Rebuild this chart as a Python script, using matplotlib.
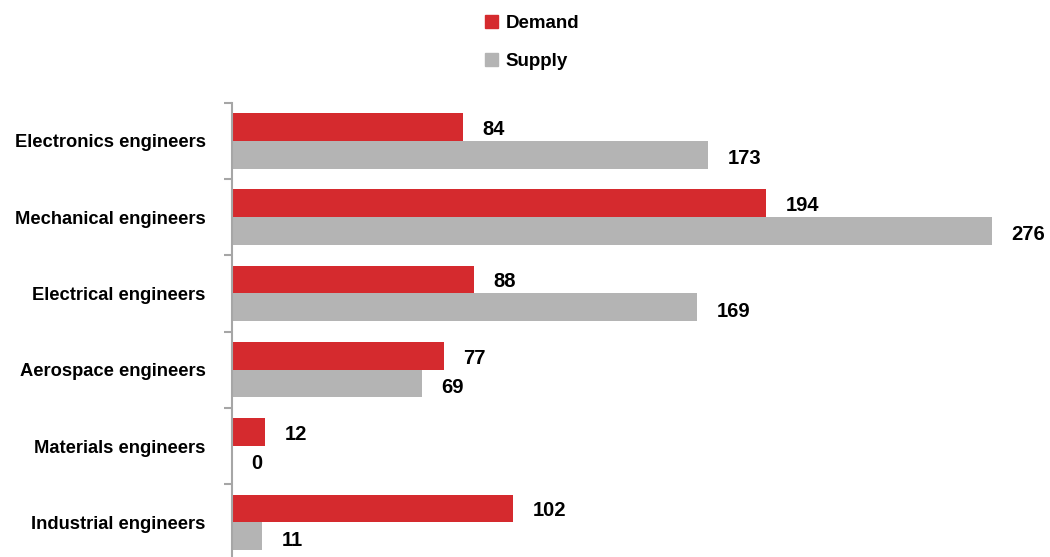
import matplotlib.pyplot as plt
import numpy as np
from matplotlib.patches import Patch

plt.rcParams['font.family'] = ['Liberation Sans', 'DejaVu Sans']
plt.rcParams['font.weight'] = 'bold'

categories = ['Electronics engineers', 'Mechanical engineers', 'Electrical engineers',
              'Aerospace engineers', 'Materials engineers', 'Industrial engineers']
demand = [84, 194, 88, 77, 12, 102]
supply = [173, 276, 169, 69, 0, 11]

red = '#D52A2E'
grey = '#B4B4B4'
W, H = 1050, 557

fig = plt.figure(figsize=(W / 100, H / 100), dpi=100)
# axes placed in pixel terms: spine at x=232, first boundary at y=102.7
ax = fig.add_axes([232 / W, 1 - 560.5 / H, (W - 232) / W, 457.8 / H])

y = np.arange(len(categories))
h = 0.363
ax.barh(y - h / 2, demand, height=h, color=red, label='Demand')
ax.barh(y + h / 2, supply, height=h, color=grey, label='Supply')

ax.set_xlim(0, (W - 232) / 2.7536)
ax.set_ylim(len(categories) - 0.5, -0.5)

for i in range(len(categories)):
    ax.annotate(str(demand[i]), (demand[i], y[i] - h / 2 + 0.03), xytext=(14, 0),
                textcoords='offset points', va='center', ha='left',
                fontsize=14.5, fontweight='bold')
    ax.annotate(str(supply[i]), (supply[i], y[i] + h / 2 + 0.05), xytext=(14, 0),
                textcoords='offset points', va='center', ha='left',
                fontsize=14.5, fontweight='bold')

for s in ['top', 'right', 'bottom']:
    ax.spines[s].set_visible(False)
ax.spines['left'].set_color('#A6A6A6')
ax.spines['left'].set_linewidth(1.5)

ax.set_xticks([])
ax.set_yticks(y)
ax.set_yticklabels(categories, fontsize=13.2, fontweight='bold')
ax.tick_params(axis='y', which='major', length=0, pad=19)
ax.set_yticks(np.arange(-0.5, len(categories), 1), minor=True)
ax.tick_params(axis='y', which='minor', length=6, width=1.5, color='#A6A6A6')

handles = [Patch(color=red, label='Demand'), Patch(color=grey, label='Supply')]
fig.legend(handles=handles, loc='upper center', bbox_to_anchor=(0.507, 1.0),
           frameon=False, fontsize=13.5, handlelength=0.7, handleheight=0.7,
           handletextpad=0.4, labelspacing=1.12, borderaxespad=0.4)

fig.savefig('out.png', dpi=100)
